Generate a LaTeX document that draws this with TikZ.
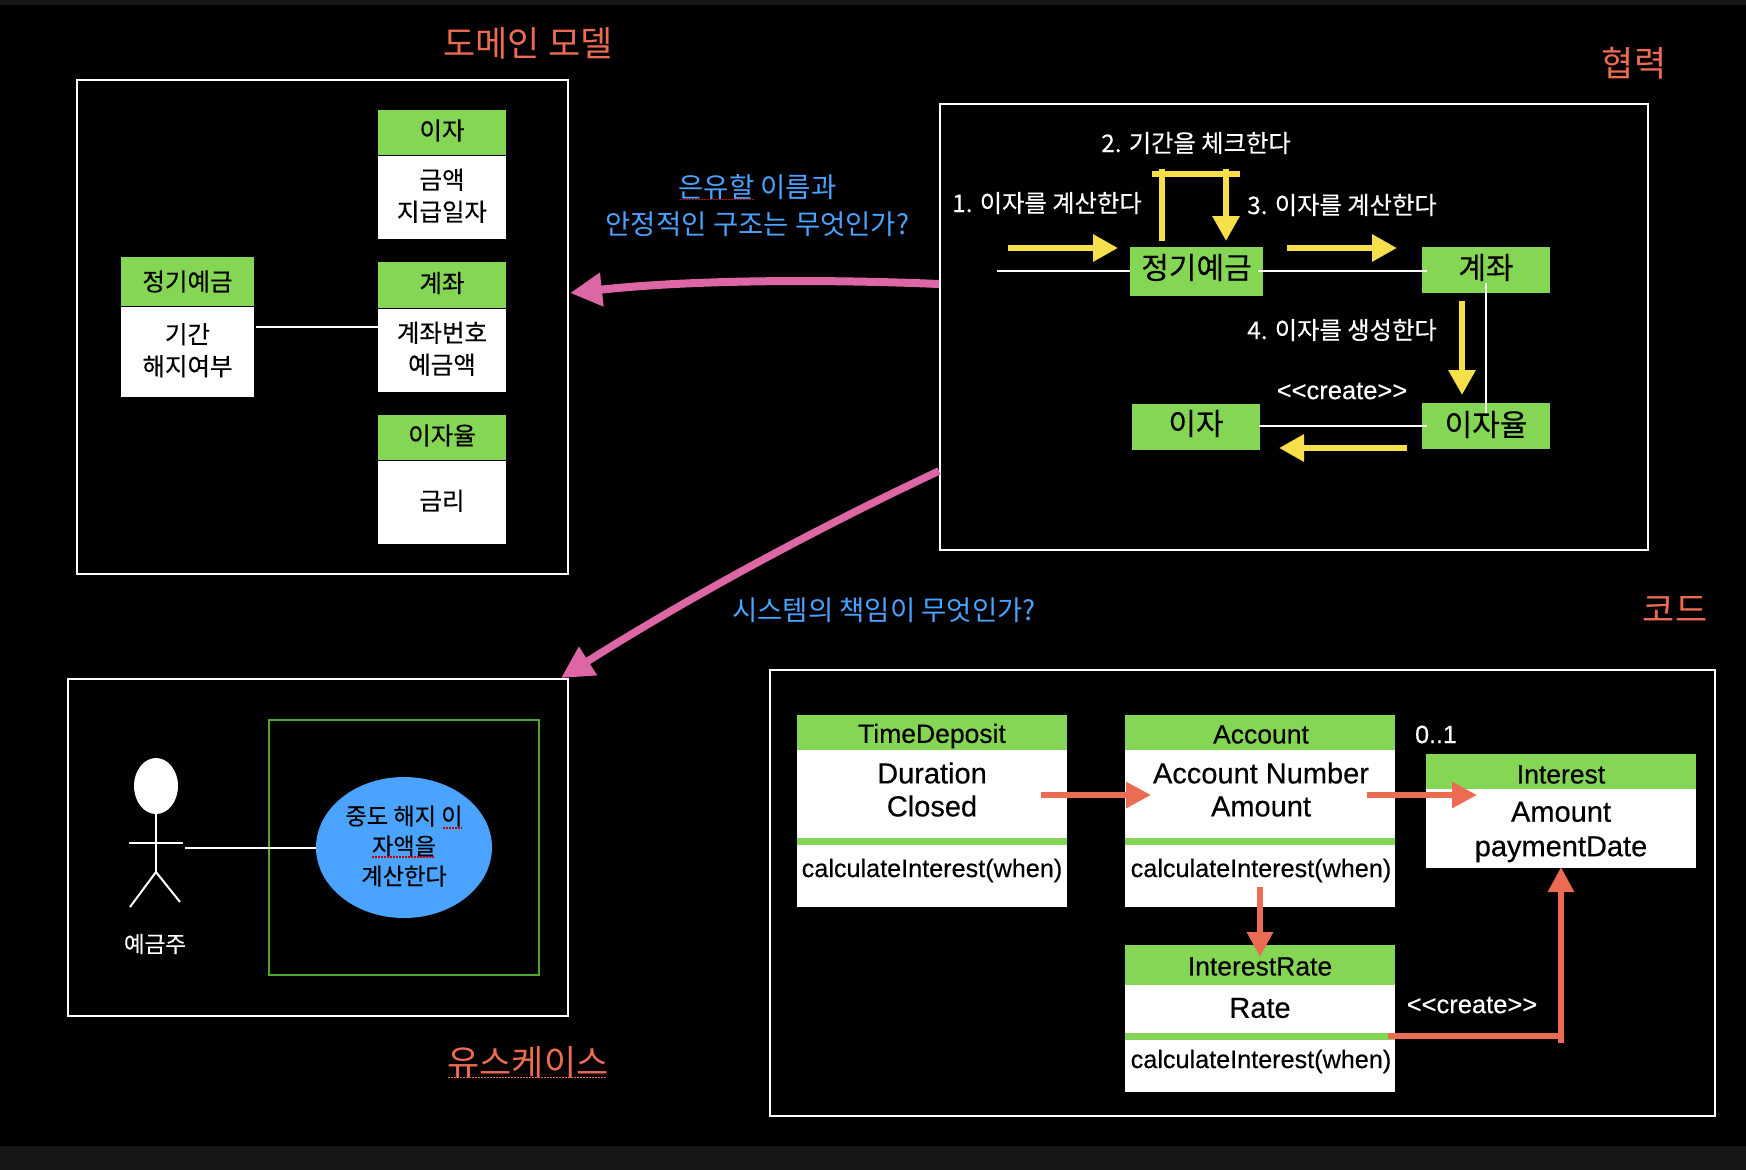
\documentclass[tikz,border=0pt]{standalone}
\usepackage{fontspec}
\setmainfont{Liberation Sans}
\newfontfamily\lat[FakeBold=0.35]{Liberation Sans}
\newfontfamily\kr{Noto Sans CJK KR}
\newfontfamily\krb[FakeBold=0.35]{Noto Sans CJK KR}
\usetikzlibrary{arrows.meta,shapes.geometric}
\definecolor{hgreen}{HTML}{84D654}
\definecolor{lgreen}{HTML}{4EA72E}
\definecolor{yel}{HTML}{F7DF4B}
\definecolor{pnk}{HTML}{DD66A5}
\definecolor{org}{HTML}{EC6B53}
\definecolor{blu}{HTML}{4AA3FF}
\definecolor{strip}{HTML}{161616}
\newcommand{\fs}[2]{\fontsize{#1}{#2}\selectfont}
\newcommand{\up}[2]{\raisebox{#1pt}[\height][\depth]{#2}}
\tikzset{
  frame/.style={draw=white,line width=2.3pt,fill=black,inner sep=0pt},
  hdr/.style={fill=hgreen,text=black,inner sep=0pt,align=center,font=\krb\fs{24.5}{30}},
  bodyk/.style={fill=white,text=black,inner sep=0pt,align=center,text depth=5.5pt,font=\krb\fs{24.5}{32}},
  greenbig/.style={fill=hgreen,text=black,inner sep=0pt,font=\krb\fs{30}{34}},
  title/.style={text=org,inner sep=0pt,font=\kr\fs{35}{40}},
  question/.style={text=blu,inner sep=0pt,align=center,font=\kr\fs{27.5}{37}},
  stepk/.style={text=white,inner sep=0pt,font=\krb\fs{24.3}{30}},
  stereo/.style={text=white,inner sep=0pt,font=\lat\fs{25.5}{30}},
  chead/.style={fill=hgreen,inner sep=0pt},
  cbody/.style={fill=white,inner sep=0pt},
  cname/.style={text=black,inner sep=0pt,font=\lat\fs{26.5}{30}},
  cattr/.style={text=black,inner sep=0pt,align=center,font=\lat\fs{29}{33}},
  cmeth/.style={text=black,inner sep=0pt,font=\lat\fs{25.2}{30}},
  thin/.style={draw=white,line width=2pt},
  stick/.style={draw=white,line width=2pt},
  yline/.style={draw=yel,line width=6pt},
  yarrow/.style={draw=yel,line width=6pt,-{Triangle[length=25pt,width=26pt]}},
  oline/.style={draw=org,line width=6pt},
  oarrow/.style={draw=org,line width=6pt,-{Triangle[length=25pt,width=25pt]}},
  parrow/.style={draw=pnk,-{Triangle[length=32pt,width=32pt]}},
  squiggle/.style={draw=red!80!black,line width=1.3pt,dash pattern=on 1.5pt off 1.5pt},
}
\begin{document}
\begin{tikzpicture}[x=1pt,y=-1pt]
\useasboundingbox (0,0) rectangle (1746,1170);
\fill[black] (0,0) rectangle (1746,1170);
\fill[strip] (0,0) rectangle (1746,5);
\fill[strip] (0,1146) rectangle (1746,1170);

% frames
\node[frame,minimum width=491pt,minimum height=494pt] (domain) at (322.5,327) {};
\node[frame,minimum width=707.5pt,minimum height=446pt] (collab) at (1294,327) {};
\node[frame,minimum width=500pt,minimum height=337pt] (usecase) at (318,847.5) {};
\node[frame,minimum width=945pt,minimum height=445.5pt] (code) at (1242.5,893) {};

% titles
\node[title] (t1) at (528,43) {도메인 모델};
\node[title] (t2) at (1634,63) {협력};
\node[title] (t3) at (1675,609) {코드};
\node[title] (t4) at (528,1062) {유스케이스};
\draw[squiggle,draw=org] (448,1077.5) -- (607,1077.5);

% questions
\node[question] (q1) at (757.5,205.5) {은유할 이름과\\안정적인 구조는 무엇인가?};
\draw[squiggle] (680,199.5) -- (754,199.5);
\node[question] (q2) at (884,610.5) {시스템의 책임이 무엇인가?};

% domain model
\node[hdr,minimum width=128pt,minimum height=45pt] (dih) at (442,132.5) {\up{2}{이자}};
\node[bodyk,minimum width=128pt,minimum height=83pt] (dib) at (442,197.5) {금액\\지급일자};
\node[hdr,minimum width=128pt,minimum height=46pt] (dah) at (442,285) {\up{2}{계좌}};
\node[bodyk,minimum width=128pt,minimum height=83pt] (dab) at (442,350.5) {계좌번호\\예금액};
\node[hdr,minimum width=128pt,minimum height=45pt] (drh) at (442,437.5) {\up{2}{이자율}};
\node[bodyk,minimum width=128pt,minimum height=83pt] (drb) at (442,502.5) {금리};
\node[hdr,minimum width=133pt,minimum height=49pt] (dth) at (187.5,281.5) {정기예금};
\node[bodyk,minimum width=133pt,minimum height=90pt] (dtb) at (187.5,352) {기간\\해지여부};
\coordinate (dl) at (256,327);
\draw[thin] (dl) -- (dl -| dab.west);

% collaboration
\node[greenbig,minimum width=133pt,minimum height=49pt] (cd) at (1196.5,271.5) {\up{4}{정기예금}};
\node[greenbig,minimum width=128pt,minimum height=46pt] (ca) at (1486,270) {\up{2.5}{계좌}};
\node[greenbig,minimum width=128pt,minimum height=46pt] (ci) at (1196,427) {\up{3.5}{이자}};
\node[greenbig,minimum width=128pt,minimum height=46pt] (cr) at (1486,426) {\up{1.5}{이자율}};
\coordinate (cs) at (997,271);
\draw[thin] (cs) -- (cs -| cd.west);
\draw[thin] ([xshift=-5pt]cd.east |- cs) -- ([xshift=5pt]ca.west |- cs);
\draw[thin] ([xshift=-1pt]ci.east |- cr) -- ([xshift=5pt]cr.west);
\coordinate (cvt) at (1486,283);
\coordinate (cvb) at (1486,413);
\draw[thin] (cvt) -- (cvb);

\node[stepk] (s2) at (1196,143) {2. 기간을 체크한다};
\node[stepk] (s1) at (1047,203) {1. 이자를 계산한다};
\node[stepk] (s3) at (1342,205) {3. 이자를 계산한다};
\node[stepk] (s4) at (1342,330) {4. 이자를 생성한다};
\node[stereo] (s5) at (1342,391) {<{}<create>{}>};

\coordinate (ya) at (1008,248);
\coordinate (yb) at (1118,248);
\draw[yarrow] (ya) -- (yb);
\coordinate (yc) at (1287,248);
\coordinate (yd) at (1397,248);
\draw[yarrow] (yc) -- (yd);
\coordinate (le) at (1162,241);
\coordinate (lf) at (1162,169);
\coordinate (lg) at (1152,174);
\coordinate (lh) at (1240,174);
\coordinate (li) at (1226,169);
\coordinate (lj) at (1226,241);
\draw[yline] (le) -- (lf);
\draw[yline] (lg) -- (lh);
\draw[yarrow] (li) -- (lj);
\coordinate (ym) at (1462,301);
\coordinate (yn) at (1462,395);
\draw[yarrow] (ym) -- (yn);
\coordinate (yp) at (1407,448);
\coordinate (yq) at (1279,448);
\draw[yarrow] (yp) -- (yq);

% use case
\node[draw=lgreen,line width=2pt,inner sep=0pt,minimum width=269.5pt,minimum height=255pt] (sys) at (404,847.5) {};
\node[draw=none,fill=white,ellipse,inner sep=0pt,minimum width=44pt,minimum height=56pt] (head) at (156,786) {};
\coordinate (hips) at (156,872);
\coordinate (arml) at (129,843);
\coordinate (armr) at (183,843);
\coordinate (legl) at (130,907);
\coordinate (legr) at (180,902);
\draw[stick] (head.south) -- (hips);
\draw[stick] (arml) -- (armr);
\draw[stick] (legl) -- (hips) -- (legr);
\node[stepk,font=\krb\fs{22.5}{26}] (actor) at (155,944) {예금주};
\node[fill=blu,ellipse,inner sep=0pt,minimum width=176pt,minimum height=141pt] (uc) at (404,847.5) {};
\node[text=black,inner sep=0pt,align=center,font=\krb\fs{23.2}{30}] (uct) at (404,846) {중도 해지 이\\자액을\\계산한다};
\draw[squiggle] (443,828) -- (462,828);
\draw[squiggle] (372,857) -- (435,857);
\coordinate (al) at (185,847.5);
\draw[thin] (al) -- (uc.west);

% code
\node[chead,minimum width=270pt,minimum height=35pt] (tdh) at (932,732.5) {};
\node[cbody,minimum width=270pt,minimum height=88pt] (tdb) at (932,794) {};
\node[chead,minimum width=270pt,minimum height=7pt] (tds) at (932,841.5) {};
\node[cbody,minimum width=270pt,minimum height=62pt] (tdm) at (932,876) {};
\node[cname] (tdn) at (932,736) {TimeDeposit};
\node[cattr] (tda) at (932,789.5) {Duration\\Closed};
\node[cmeth] (tdc) at (932,870.5) {calculateInterest(when)};

\node[chead,minimum width=270pt,minimum height=35pt] (ach) at (1260,732.5) {};
\node[cbody,minimum width=270pt,minimum height=88pt] (acb) at (1260,794) {};
\node[chead,minimum width=270pt,minimum height=7pt] (acs) at (1260,841.5) {};
\node[cbody,minimum width=270pt,minimum height=62pt] (acm) at (1260,876) {};
\node[cname] (acn) at (1261,734.5) {Account};
\node[cattr] (aca) at (1261,789.5) {Account Number\\Amount};
\node[cmeth] (acc) at (1261,870.5) {calculateInterest(when)};

\node[chead,minimum width=270pt,minimum height=35pt] (inh) at (1561,771.5) {};
\node[cbody,minimum width=270pt,minimum height=79pt] (inb) at (1561,828.5) {};
\node[cname] (inn) at (1561,774.5) {Interest};
\node[cattr,font=\lat\fs{29}{34.5}] (ina) at (1561,832) {Amount\\paymentDate};
\node[stereo,font=\lat\fs{25}{30}] (mult) at (1436,734.5) {0..1};

\node[chead,minimum width=270pt,minimum height=40pt] (irh) at (1260,965) {};
\node[cbody,minimum width=270pt,minimum height=48pt] (irb) at (1260,1009) {};
\node[chead,minimum width=270pt,minimum height=7pt] (irs) at (1260,1036.5) {};
\node[cbody,minimum width=270pt,minimum height=52pt] (irm) at (1260,1066) {};
\node[cname] (irn) at (1260,966.5) {InterestRate};
\node[cattr] (ira) at (1260,1008) {Rate};
\node[cmeth] (irc) at (1261,1061.5) {calculateInterest(when)};
\node[stereo] (cr2) at (1472,1005) {<{}<create>{}>};

\coordinate (oa) at (1041,795);
\coordinate (ob) at (1151,795);
\draw[oarrow] (oa) -- (ob);
\coordinate (oc) at (1367,795);
\coordinate (od) at (1477,795);
\draw[oarrow] (oc) -- (od);
\coordinate (oe) at (1260,887);
\coordinate (of) at (1260,957);
\draw[oarrow] (oe) -- (of);
\coordinate (og) at (1388,1036);
\coordinate (oh) at (1559,1036);
\draw[oline] (og) -- (oh);
\coordinate (oi) at (1561,1043);
\coordinate (oj) at (1561,867);
\draw[oarrow] (oi) -- (oj);

% pink arrows
\coordinate (pa) at (939,284);
\coordinate (pb) at (570,293);
\draw[parrow,line width=8pt] (pa) .. controls (820,279) and (690,280) .. (pb);
\coordinate (pc) at (939,471);
\coordinate (pd) at (561,678);
\draw[parrow,line width=7.5pt] (pc) .. controls (809,532) and (683,601) .. (pd);
\end{tikzpicture}
\end{document}
